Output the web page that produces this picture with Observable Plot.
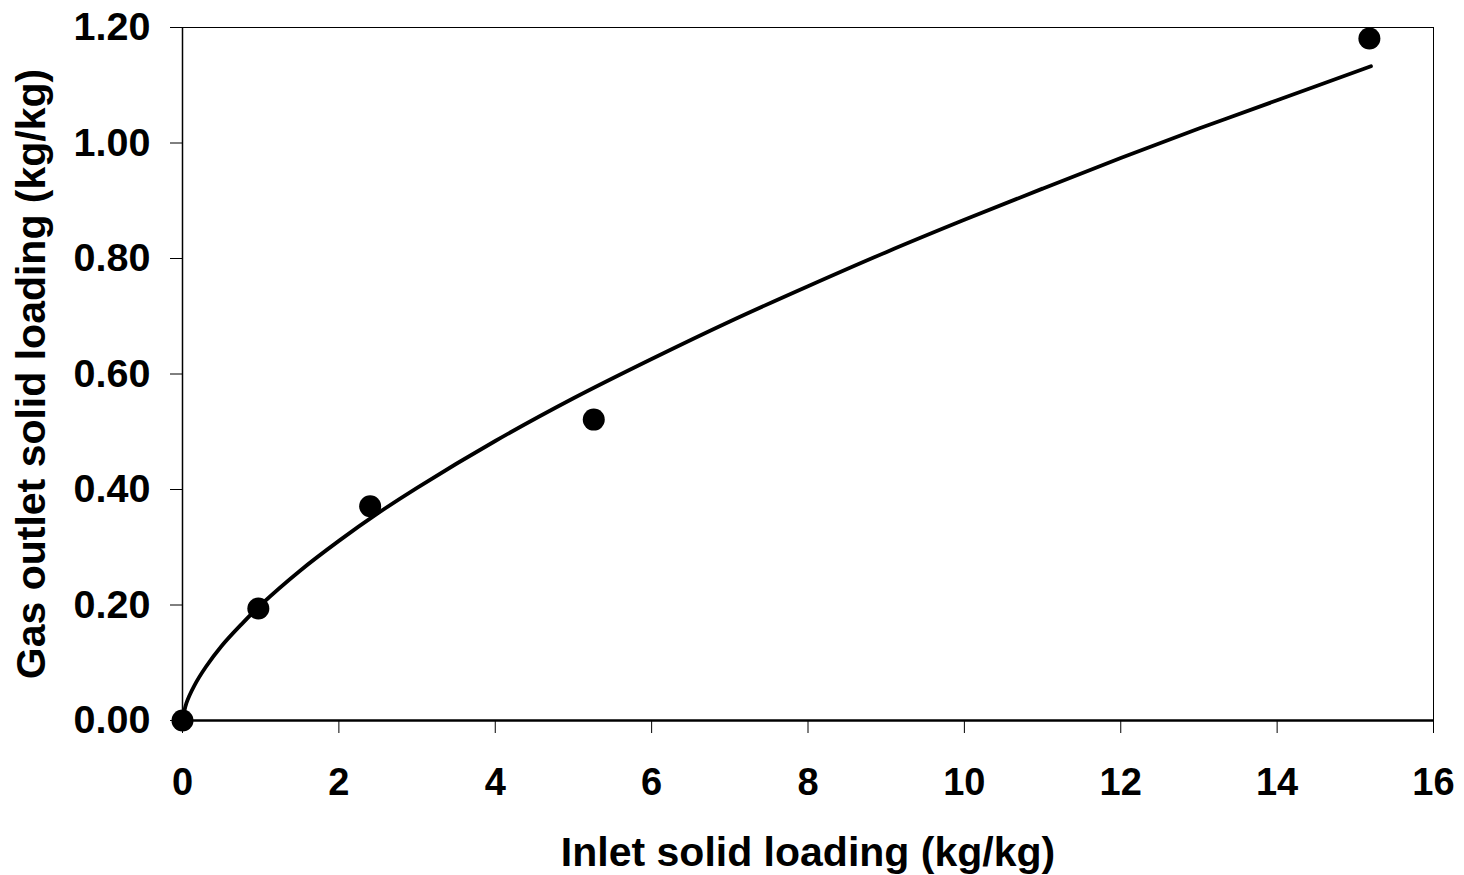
<!DOCTYPE html>
<html><head><meta charset="utf-8">
<script src="https://cdn.jsdelivr.net/npm/d3@7"></script>
<script src="https://cdn.jsdelivr.net/npm/@observablehq/plot@0.6"></script>
<style>body{margin:0;background:#fff;} svg{display:block;}</style>
</head><body><div id="chart"></div>
<script>
// Measured points
const pointX = [0, 0.97, 2.40, 5.26, 15.18];
const pointY = [0, 0.194, 0.371, 0.521, 1.181];
// Fitted curve
const curveX = [0, 0.05, 0.15, 0.3, 0.5, 0.75, 1, 1.5, 2, 2.5, 3, 4, 5, 6, 7, 8, 9, 10, 11, 12, 13, 14, 15.2];
const curveY = [0, 0.030, 0.060, 0.093, 0.129, 0.166, 0.200, 0.259, 0.311, 0.359, 0.403, 0.484, 0.558, 0.626, 0.691, 0.752, 0.811, 0.867, 0.921, 0.974, 1.025, 1.074, 1.133];
const xTicks = [0, 2, 4, 6, 8, 10, 12, 14, 16];
const yTicks = [0, 0.2, 0.4, 0.6, 0.8, 1.0, 1.2];

const points = pointX.map((x, i) => ({x, y: pointY[i]}));
const curve = curveX.map((x, i) => ({x, y: curveY[i]}));

const font = "'Liberation Sans', Arial, sans-serif";
const chart = Plot.plot({
  width: 1464, height: 875,
  marginLeft: 182, marginRight: 31, marginTop: 27, marginBottom: 155,
  style: {fontFamily: font, fontWeight: "bold", color: "#000", background: "#fff"},
  x: {domain: [0, 16]},
  y: {domain: [0, 1.2]},
  marks: [
    Plot.frame({stroke: "#000", strokeWidth: 1}),
    Plot.ruleY([0], {stroke: "#000", strokeWidth: 2.5}),
    Plot.ruleX([0], {stroke: "#000", strokeWidth: 1.5}),
    Plot.axisX({ticks: xTicks, tickSize: 13, tickPadding: 35, fontSize: 38, strokeWidth: 1, label: null}),
    Plot.axisX({ticks: [], tickSize: 0, fontSize: 41,
      label: "Inlet solid loading (kg/kg)", labelAnchor: "center", labelArrow: "none", labelOffset: 145}),
    Plot.axisY({ticks: yTicks, tickSize: 12, tickPadding: 20, fontSize: 39.5, strokeWidth: 1,
      tickFormat: d3.format(".2f"), label: null}),
    Plot.axisY({ticks: [], tickSize: 0, fontSize: 41,
      label: "Gas outlet solid loading (kg/kg)", labelAnchor: "center", labelArrow: "none", labelOffset: 167}),
    Plot.line(curve, {x: "x", y: "y", stroke: "#000", strokeWidth: 3.8, curve: "catmull-rom"}),
    Plot.dot(points, {x: "x", y: "y", r: 11, fill: "#000", stroke: "none", clip: false})
  ]
});
document.getElementById("chart").appendChild(chart);
</script></body></html>
